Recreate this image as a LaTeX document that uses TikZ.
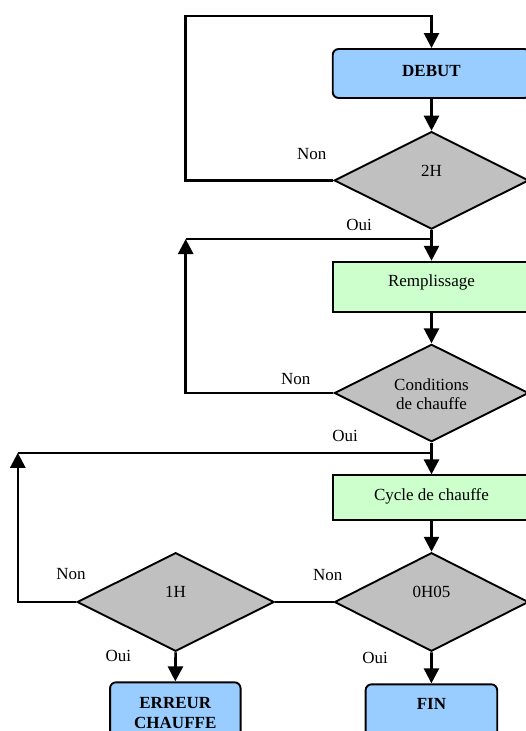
\documentclass[tikz,border=0pt]{standalone}
\usepackage{fontspec}
\setmainfont{Liberation Serif}
\usetikzlibrary{shapes.geometric,arrows.meta}
\definecolor{termblue}{HTML}{99CCFF}
\definecolor{procgreen}{HTML}{CCFFCC}
\definecolor{decgray}{HTML}{C0C0C0}
\begin{document}
\begin{tikzpicture}[x=1pt,y=-1pt,
  line width=1.9pt,
  font=\fontsize{17}{19}\selectfont,
  termbox/.style={draw=black,fill=termblue,rounded corners=6pt,inner sep=0pt},
  procbox/.style={draw=black,fill=procgreen,inner sep=0pt},
  decbox/.style={draw=black,fill=decgray,diamond,aspect=2,inner sep=0pt},
  txt/.style={inner sep=0pt,anchor=base},
  lab/.style={inner sep=0pt},
  conn/.style={line width=2.6pt},
  arr/.style={conn,-{Triangle[width=15pt,length=15pt]}}]
\useasboundingbox (0,0) rectangle (526,731);
\clip (0,0) rectangle (526,731);
% shapes
\node[termbox,minimum width=197.6pt,minimum height=49pt] (debut) at (431.5,73.5) {};
\node[decbox,minimum width=194.5pt,minimum height=97.5pt] (d2h) at (431.5,180.4) {};
\node[procbox,minimum width=197.6pt,minimum height=50pt] (rem) at (431.5,286.7) {};
\node[decbox,minimum width=194.5pt,minimum height=97.4pt] (dcond) at (431.5,393) {};
\node[procbox,minimum width=197.6pt,minimum height=44.3pt] (cyc) at (431.5,497.5) {};
\node[decbox,minimum width=194pt,minimum height=98.6pt] (d005) at (431.5,602) {};
\node[decbox,minimum width=197pt,minimum height=98.6pt] (d1h) at (175.6,602) {};
\node[termbox,minimum width=130.5pt,minimum height=60pt] (err) at (175.3,712.3) {};
\node[termbox,minimum width=131.6pt,minimum height=60pt] (fin) at (431.4,714.3) {};
% texts
\node[txt,font=\fontsize{17}{19}\selectfont\bfseries] (tdebut) at (431.5,76) {DEBUT};
\node[txt] (t2h) at (431.5,176.7) {2H};
\node[txt] (trem) at (431.5,286.7) {Remplissage};
\node[txt] (tcond1) at (431.5,390.7) {Conditions};
\node[txt] (tcond2) at (431.5,409.3) {de chauffe};
\node[txt] (tcyc) at (431.5,500.4) {Cycle de chauffe};
\node[txt] (t005) at (431.5,597) {0H05};
\node[txt] (t1h) at (175.6,597) {1H};
\node[txt,font=\fontsize{17}{19}\selectfont\bfseries] (terr1) at (175.3,708.3) {ERREUR};
\node[txt,font=\fontsize{17}{19}\selectfont\bfseries] (terr2) at (175.3,728.1) {CHAUFFE};
\node[txt,font=\fontsize{17}{19}\selectfont\bfseries] (tfin) at (431.4,709) {FIN};
% labels
\node[lab] (lnon1) at (311.7,154) {Non};
\node[lab] (loui1) at (359,225) {Oui};
\node[lab] (lnon2) at (295.7,379) {Non};
\node[lab] (loui2) at (345,436) {Oui};
\node[lab] (lnon3) at (327.7,575) {Non};
\node[lab] (lnon4) at (71,574) {Non};
\node[lab] (loui4) at (118.4,656) {Oui};
\node[lab] (loui3) at (375,658) {Oui};
% corner coordinates
\coordinate (c1) at (185.7,16);
\coordinate (c2) at (185.7,239);
\coordinate (j2) at (431.5,239);
\coordinate (c3) at (17.8,452.8);
\coordinate (j3) at (431.5,452.8);
% connectors
\draw[arr] (d2h.west) -| (c1) -| (debut.north);
\draw[arr] (debut.south) -- (d2h.north);
\draw[arr] (d2h.south) -- (rem.north);
\draw[arr] (dcond.west) -| (c2);
\draw[conn] (c2) -- (j2);
\draw[arr] (rem.south) -- (dcond.north);
\draw[arr] (dcond.south) -- (cyc.north);
\draw[arr] (d1h.west) -| (c3);
\draw[conn] (c3) -- (j3);
\draw[arr] (cyc.south) -- (d005.north);
\draw[conn] (d005.west) -- (d1h.east);
\draw[arr] (d1h.south) -- (err.north);
\draw[arr] (d005.south) -- (fin.north);
\end{tikzpicture}
\end{document}
